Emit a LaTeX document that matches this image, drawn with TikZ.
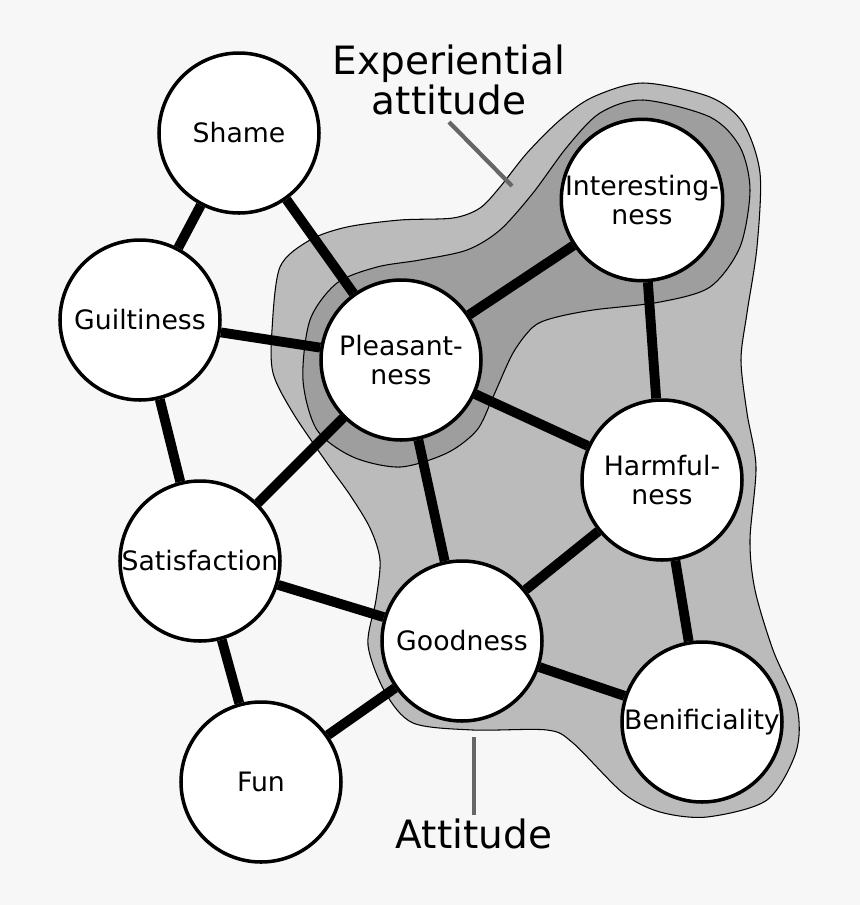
\documentclass[tikz,border=0pt]{standalone}
\usepackage{fontspec}
\setmainfont{DejaVu Sans}
\usepackage{tikz}
\usepackage{xcolor}
\usetikzlibrary{positioning}
\definecolor{cBack}{RGB}{247,247,247}
\definecolor{cOuter}{RGB}{187,187,187}
\definecolor{cInner}{RGB}{158,158,158}
\definecolor{cPointer}{RGB}{102,102,102}
\tikzset{
	concept/.style ={circle, draw=black, line width=1pt, fill=white, minimum size=1.6cm, inner sep=0pt, align=center, font=\fontsize{7.6}{8}\selectfont},
	link/.style    ={line width=2.8pt},
	% shaded regions
	outerblob/.style={draw=black, line width=0.3pt, fill=cOuter},
	innerblob/.style={draw=black, line width=0.3pt, fill=cInner},
	tag/.style     ={align=center, font=\fontsize{11.1}{11.4}\selectfont},
	pointer/.style ={cPointer, line width=1.2pt},
}

\begin{document}
\begin{tikzpicture}[x=0.1mm, y=-0.1mm]
	\fill[cBack] (0,0) rectangle (860,905);
	% attitude region
	\draw[outerblob] plot[smooth cycle, tension=0.5] coordinates {
		(643,83) (710,97) (743,123) (760,173) (757,247) (747,313) (741,360) (747,413)
		(756,467) (750,540) (755,590) (773,650) (797,707) (796,752) (767,800) (707,817)
		(660,812) (623,793) (573,743) (547,730) (473,730) (413,723) (385,692) (368,645)
		(376,600) (380,560) (370,528) (350,495) (327,463) (293,413) (273,373) (272,330)
		(280,267) (310,240) (347,227) (400,220) (453,218) (480,208) (500,187) (527,153)
		(560,120) (593,97)};
	% experiential attitude region
	\draw[innerblob] plot[smooth cycle, tension=0.5] coordinates {
		(643,100) (710,117) (740,147) (750,190) (740,247) (710,287) (660,302) (593,310)
		(553,318) (533,327) (513,353) (493,397) (477,430) (447,453) (400,467) (353,457)
		(317,430) (303,380) (310,320) (337,283) (377,267) (420,260) (467,250) (500,230)
		(533,193) (567,147) (600,113)};

	\node[concept] (shame) at (239,133) {Shame};
	\node[concept] (guilt) at (140,320) {Guiltiness};
	\node[concept] (pleas) at (401,360) {Pleasant-\\ness};
	\node[concept] (inter) at (642,200) {Interesting-\\ness};
	\node[concept] (harm)  at (662,480) {Harmful-\\ness};
	\node[concept] (satis) at (200,561) {Satisfaction};
	\node[concept] (good)  at (462,641) {Goodness};
	\node[concept] (benef) at (702,722) {Benificiality};
	\node[concept] (fun)   at (261,782) {Fun};

	\foreach \a/\b in {shame/guilt, shame/pleas, guilt/pleas, guilt/satis, satis/pleas,
		satis/good, satis/fun, fun/good, pleas/good, pleas/inter, pleas/harm,
		inter/harm, harm/good, harm/benef, good/benef}
		\draw[link] (\a) -- (\b);

	\node[tag] (exptag) at (449,80) {Experiential\\attitude};
	\node[tag] (atttag) at (474,834) {Attitude};
	\coordinate (expfoot) at (449,122);
	\coordinate (exptip) at (512,186);
	\coordinate (atttip) at (474,737);
	\coordinate (attfoot) at (474,815);
	\draw[pointer] (expfoot) -- (exptip);
	\draw[pointer] (attfoot) -- (atttip);
\end{tikzpicture}
\end{document}
